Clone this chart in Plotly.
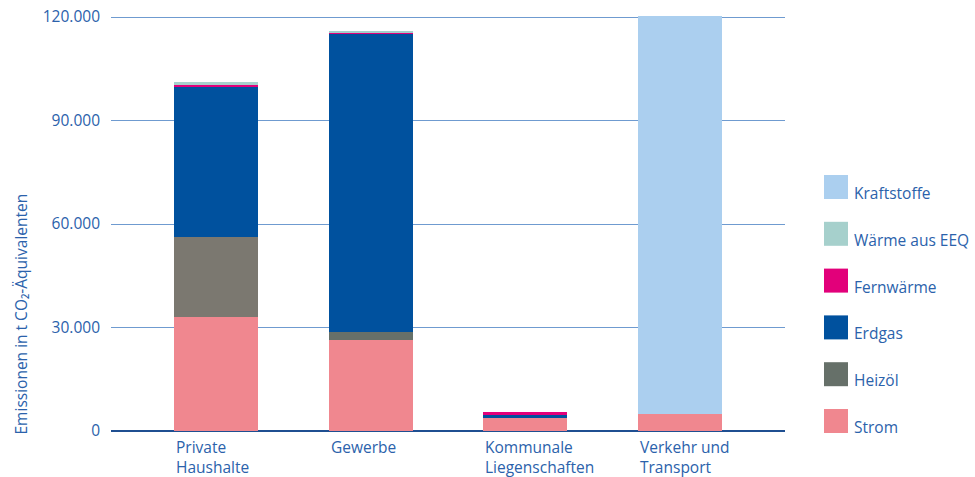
import plotly.graph_objects as go

# Data (t CO2-Äquivalente)
categories = ["Private<br>Haushalte", "Gewerbe", "Kommunale<br>Liegenschaften", "Verkehr und<br>Transport"]
strom = [33000, 26400, 3800, 4900]
heizoel = [23200, 2300, 0, 0]
erdgas = [43500, 86500, 800, 0]
fernwaerme = [600, 200, 900, 0]
waerme_eeq = [900, 600, 0, 0]
kraftstoffe = [0, 0, 0, 117000]

series = [
    ("Strom", strom, "#f0878f"),
    ("Heizöl", heizoel, ["#7b7870", "#667069", "#667069", "#667069"]),
    ("Erdgas", erdgas, "#00519e"),
    ("Fernwärme", fernwaerme, "#e2007a"),
    ("Wärme aus EEQ", waerme_eeq, "#a6d0cc"),
    ("Kraftstoffe", kraftstoffe, "#abcfef"),
]
legend_colors = ["#f0878f", "#667069", "#00519e", "#e2007a", "#a6d0cc", "#abcfef"]

BLUE_TXT = "#2b62ab"
FONT = "Open Sans"
FS = 15.5

# full window canvas; body margin is removed in the page (post_script below)
W, H = 975, 477
L, R, T, B = 111, 190, 16, 46
PW, PH = W - L - R, H - T - B


def px_x(px):
    return (px - L) / PW


def px_y(py):
    return (H - B - py) / PH


fig = go.Figure()
xs = list(range(len(categories)))
for name, vals, col in series:
    fig.add_trace(go.Bar(
        x=xs, y=vals, name=name,
        marker=dict(color=col, line=dict(width=0)),
        width=0.545, showlegend=False,
    ))

# category labels, left aligned under each bar
for i, lab in enumerate(categories):
    fig.add_annotation(
        x=i - 0.272, y=0, xref="x", yref="y",
        xanchor="left", yanchor="top", yshift=-3,
        text=lab, showarrow=False, align="left",
        font=dict(family=FONT, size=FS, color=BLUE_TXT),
    )

# hand-drawn legend (large square swatches), top to bottom
for k, (name, _, _) in enumerate(reversed(series)):
    col = legend_colors[len(series) - 1 - k]
    top_px = 175 + k * 46.8
    fig.add_shape(type="rect", xref="paper", yref="paper",
                  x0=px_x(824), x1=px_x(848), y0=px_y(top_px + 24), y1=px_y(top_px),
                  fillcolor=col, line=dict(width=0))
    fig.add_annotation(
        x=px_x(852), y=px_y(top_px + 18),
        xref="paper", yref="paper", xanchor="left", yanchor="middle",
        text=name, showarrow=False,
        font=dict(family=FONT, size=FS, color=BLUE_TXT),
    )

# y-axis title, bottom aligned
fig.add_annotation(
    x=px_x(20), y=px_y(437), xref="paper", yref="paper",
    xanchor="center", yanchor="bottom", textangle=-90,
    text="Emissionen in t CO₂-Äquivalenten", showarrow=False,
    font=dict(family=FONT, size=FS, color=BLUE_TXT),
)

fig.update_layout(
    barmode="stack",
    width=W, height=H,
    margin=dict(l=L, r=R, t=T, b=B, pad=0, autoexpand=False),
    paper_bgcolor="white", plot_bgcolor="white",
    font=dict(family=FONT, size=FS, color=BLUE_TXT),
    xaxis=dict(range=[-0.68, 3.68], showticklabels=False, showgrid=False,
               zeroline=False, showline=False, automargin=False),
    yaxis=dict(range=[0, 120300], tickvals=[0, 30000, 60000, 90000, 120000],
               ticktext=["0", "30.000", "60.000", "90.000", "120.000"],
               showgrid=True, gridcolor="#6f9bd0", gridwidth=1.3,
               zeroline=True, zerolinecolor="#1f4f91", zerolinewidth=1.5,
               ticks="", ticklabelstandoff=10, automargin=False,
               tickfont=dict(family=FONT, size=FS, color=BLUE_TXT)),
    showlegend=False,
)

fig.write_html("out.html", config={"displayModeBar": False},
               post_script="document.body.style.margin='0';")
